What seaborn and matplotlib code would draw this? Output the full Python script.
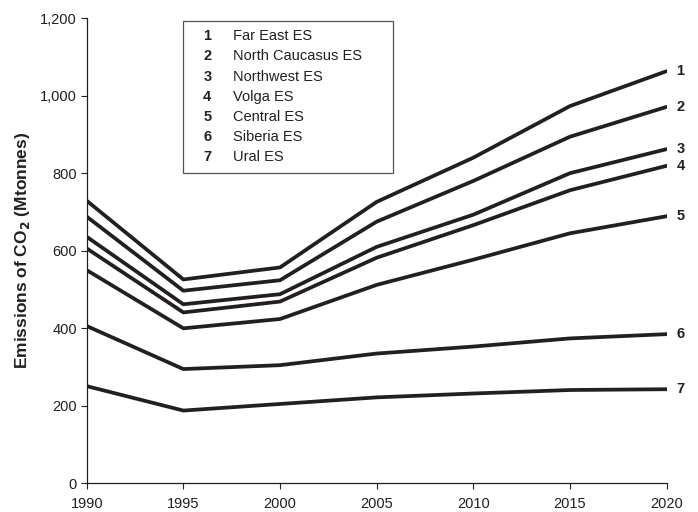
import matplotlib
matplotlib.use("Agg")
import matplotlib.pyplot as plt
from matplotlib.patches import Rectangle
from matplotlib.ticker import FuncFormatter
import numpy as np
import pandas as pd
import seaborn as sns

years = [1990, 1995, 2000, 2005, 2010, 2015, 2020]
regions = ["Far East ES", "North Caucasus ES", "Northwest ES", "Volga ES",
           "Central ES", "Siberia ES", "Ural ES"]
far_east = [729, 526, 557, 726, 840, 973, 1063]
north_caucasus = [688, 497, 524, 675, 780, 894, 971]
northwest = [636, 462, 488, 610, 693, 800, 862]
volga = [606, 441, 469, 582, 666, 756, 819]
central = [550, 400, 424, 512, 577, 645, 689]
siberia = [406, 295, 305, 335, 353, 374, 385]
ural = [251, 188, 205, 222, 232, 241, 243]
series = [far_east, north_caucasus, northwest, volga, central, siberia, ural]

rows = []
for i, (name, vals) in enumerate(zip(regions, series)):
    for yr, v in zip(years, vals):
        rows.append({"Year": yr, "Region": name, "Emissions": v})
df = pd.DataFrame(rows)

sns.set_theme(style="ticks")
plt.rcParams["font.family"] = ["Liberation Sans", "DejaVu Sans"]

ink = "#231f20"
fig = plt.figure(figsize=(6.98, 5.12), dpi=100)
ax = fig.add_axes([0.1242, 0.0557, 0.8309, 0.9091])

sns.lineplot(data=df, x="Year", y="Emissions", hue="Region", hue_order=regions,
             palette=[ink] * len(regions), linewidth=2.7, legend=False, ax=ax)

ax.set_xlim(1990, 2020)
ax.set_ylim(0, 1200)
ax.set_xticks(np.arange(1990, 2021, 5))
ax.set_yticks(np.arange(0, 1201, 200))
ax.yaxis.set_major_formatter(FuncFormatter(lambda v, p: f"{int(v):,}"))
ax.tick_params(axis="both", direction="out", length=4, width=0.8,
               colors=ink, labelsize=10.5, labelcolor=ink, pad=3)
ax.tick_params(axis="x", pad=6)
for side in ["top", "right"]:
    ax.spines[side].set_visible(False)
for side in ["left", "bottom"]:
    ax.spines[side].set_color(ink)
    ax.spines[side].set_linewidth(0.9)

ax.set_xlabel("")
ax.set_ylabel("Emissions of CO$_\\mathbf{2}$ (Mtonnes)", fontsize=12.5,
              fontweight="bold", color=ink, labelpad=6)

# Numbered end-of-line labels
for i, vals in enumerate(series):
    ax.annotate(str(i + 1), xy=(years[-1], vals[-1]), xytext=(7, 0),
                textcoords="offset points", ha="left", va="center",
                fontsize=10.5, fontweight="bold", color=ink,
                annotation_clip=False)

# Key box
box = Rectangle((0.1666, 0.6677), 0.362, 0.3259, transform=ax.transAxes,
                fill=False, edgecolor="#555555", linewidth=0.9, clip_on=False)
ax.add_patch(box)
for i, name in enumerate(regions):
    yy = 0.961 - i * 0.0434
    ax.text(0.208, yy, str(i + 1), transform=ax.transAxes, fontsize=10.5,
            fontweight="bold", color=ink, va="center", ha="center")
    ax.text(0.252, yy, name, transform=ax.transAxes, fontsize=10.5,
            color=ink, va="center", ha="left")

fig.savefig("out.png", dpi=100)
